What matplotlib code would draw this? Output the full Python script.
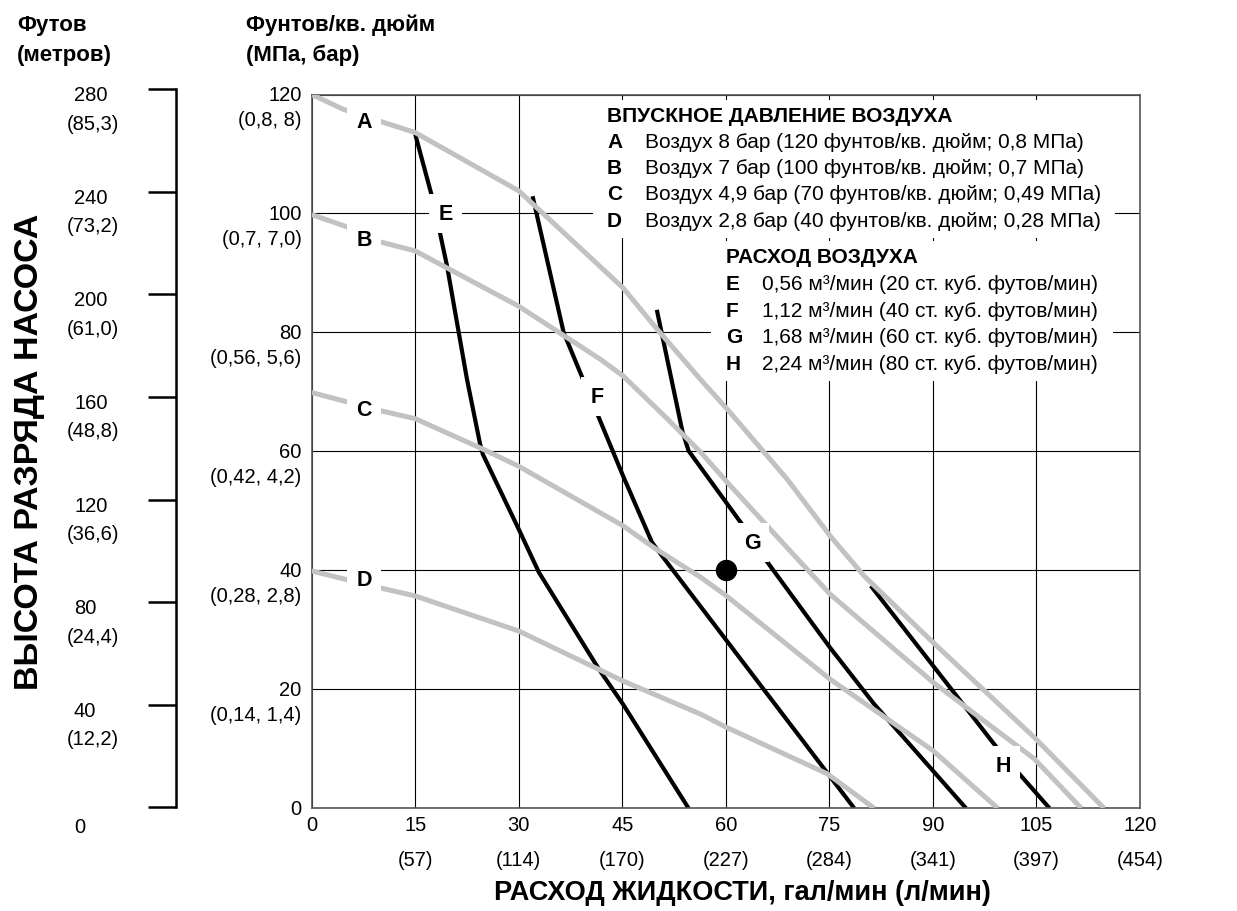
import matplotlib
matplotlib.use('Agg')
import matplotlib.pyplot as plt
from matplotlib.patches import Rectangle
from matplotlib.transforms import Bbox

W, H = 1237, 912
plt.rcParams['font.family'] = ['Liberation Sans', 'DejaVu Sans']
NARROW = ['Liberation Sans Narrow', 'Liberation Sans', 'DejaVu Sans']

# --- curves: fluid flow (gpm) vs outlet pressure (psi) ---
# air inlet pressure curves (gray)
a_gpm = [0, 4.6, 9.9, 15.0, 30.0, 45.1, 50.0, 56.4, 60.2, 68.9, 75.1, 80.0, 90.0, 104.7, 114.8]
a_psi = [120.0, 117.5, 115.5, 113.6, 103.8, 87.5, 80.6, 72.0, 67.1, 55.3, 45.8, 39.1, 27.9, 11.9, 0]
b_gpm = [0, 5.0, 10.0, 15.0, 30.0, 41.8, 45.1, 51.5, 56.4, 60.2, 70.4, 75.1, 90.0, 104.7, 111.5]
b_psi = [99.8, 97.8, 95.2, 93.7, 84.4, 75.5, 72.7, 65.5, 59.8, 54.8, 41.9, 36.0, 21.2, 8.3, 0]
c_gpm = [0, 10.1, 15.0, 24.4, 30.0, 45.1, 49.6, 56.4, 60.1, 75.1, 90.0, 99.4]
c_psi = [69.9, 66.8, 65.5, 60.6, 57.5, 47.5, 43.8, 38.8, 35.7, 21.7, 9.7, 0]
d_gpm = [0, 10.1, 15.0, 30.0, 45.1, 56.4, 60.1, 74.7, 81.5]
d_psi = [39.9, 37.0, 35.7, 29.8, 21.4, 15.8, 13.6, 5.8, 0]

# air consumption curves (black)
e_gpm = [15.0, 17.6, 19.6, 22.5, 24.4, 24.8, 30.0, 32.9, 41.6, 45.1, 54.6]
e_psi = [113.3, 102.1, 91.2, 72.1, 61.2, 59.5, 46.9, 39.7, 23.4, 17.5, 0]
f_gpm = [32.0, 36.5, 41.2, 45.1, 49.3, 51.5, 60.1, 78.6]
f_psi = [102.9, 80.0, 66.8, 55.9, 44.7, 41.3, 28.2, 0]
g_gpm = [50.0, 53.7, 54.6, 62.5, 65.5, 75.1, 81.5, 94.8]
g_psi = [83.8, 63.4, 60.1, 47.5, 42.2, 27.0, 17.5, 0]
h_gpm = [81.0, 90.0, 99.4, 102.5, 106.9]
h_psi = [37.4, 24.0, 10.0, 5.8, 0]

# curve letters placed on the chart (gpm, psi)
curve_letters = ['A', 'B', 'C', 'D', 'E', 'F', 'G', 'H']
letter_gpm = [7.6, 7.6, 7.6, 7.6, 19.4, 41.3, 63.8, 100.2]
letter_psi = [115.4, 95.6, 67.0, 38.5, 100.0, 69.3, 44.7, 7.2]

# operating point
pt_gpm, pt_psi = 60, 40

# axis ticks
x_ticks = [0, 15, 30, 45, 60, 75, 90, 105, 120]
x_lpm = ['', '(57)', '(114)', '(170)', '(227)', '(284)', '(341)', '(397)', '(454)']
y_ticks = [0, 20, 40, 60, 80, 100, 120]
y_mpa = ['', '(0,14, 1,4)', '(0,28, 2,8)', '(0,42, 4,2)', '(0,56, 5,6)', '(0,7, 7,0)', '(0,8, 8)']
ft_ticks = [0, 40, 80, 120, 160, 200, 240, 280]
ft_m = ['', '(12,2)', '(24,4)', '(36,6)', '(48,8)', '(61,0)', '(73,2)', '(85,3)']

leg1_title = 'ВПУСКНОЕ ДАВЛЕНИЕ ВОЗДУХА'
leg1_keys = ['A', 'B', 'C', 'D']
leg1_text = ['Воздух 8 бар (120 фунтов/кв. дюйм; 0,8 МПа)',
             'Воздух 7 бар (100 фунтов/кв. дюйм; 0,7 МПа)',
             'Воздух 4,9 бар (70 фунтов/кв. дюйм; 0,49 МПа)',
             'Воздух 2,8 бар (40 фунтов/кв. дюйм; 0,28 МПа)']
leg2_title = 'РАСХОД ВОЗДУХА'
leg2_keys = ['E', 'F', 'G', 'H']
leg2_text = ['0,56 м³/мин (20 ст. куб. футов/мин)',
             '1,12 м³/мин (40 ст. куб. футов/мин)',
             '1,68 м³/мин (60 ст. куб. футов/мин)',
             '2,24 м³/мин (80 ст. куб. футов/мин)']


def fx(px):
    return px / W


def fy(py):
    return 1 - py / H


fig = plt.figure(figsize=(W / 100, H / 100), dpi=100)
ax = fig.add_axes([fx(311.7), fy(809.3), fx(1140) - fx(311.7), fy(95.5) - fy(809.3)])
ax.set_xlim(0, 120)
ax.set_ylim(0, 120)
ax.set_xticks(x_ticks)
ax.set_yticks(y_ticks)
ax.set_axisbelow(True)
ax.grid(True, color='black', lw=0.8)
ax.tick_params(length=0, labelbottom=False, labelleft=False)
for s in ax.spines.values():
    s.set_color('#555555')
    s.set_linewidth(1.2)

gray = '#c2c2c2'
for gx, gy in [(e_gpm, e_psi), (f_gpm, f_psi), (g_gpm, g_psi), (h_gpm, h_psi)]:
    ax.plot(gx, gy, color='black', lw=3.0, zorder=2, solid_capstyle='butt')
for gx, gy in [(a_gpm, a_psi), (b_gpm, b_psi), (c_gpm, c_psi), (d_gpm, d_psi)]:
    ax.plot(gx, gy, color=gray, lw=3.6, zorder=3, solid_capstyle='butt')
ax.plot(pt_gpm, pt_psi, 'o', color='black', ms=14.4, zorder=6)

for lab, lx, ly in zip(curve_letters, letter_gpm, letter_psi):
    ax.text(lx, ly, lab, fontsize=15.5, fontweight='bold', ha='center', va='center', zorder=5,
            bbox=dict(boxstyle='square,pad=0.42', fc='white', ec='none'))

# x tick labels (gpm and l/min)
for v, lpm in zip(x_ticks, x_lpm):
    ax.annotate(str(v), xy=(v, 0), xycoords=('data', 'axes fraction'), xytext=(0, -16 * 0.72),
                textcoords='offset points', ha='center', va='center', fontsize=14.5, family=NARROW)
    if lpm:
        ax.annotate(lpm, xy=(v, 0), xycoords=('data', 'axes fraction'), xytext=(0, -51 * 0.72),
                    textcoords='offset points', ha='center', va='center', fontsize=14.5, family=NARROW)

# y tick labels (psi and MPa, bar)
for v, mpa in zip(y_ticks, y_mpa):
    ax.annotate(str(v), xy=(0, v), xycoords=('axes fraction', 'data'), xytext=(-10 * 0.72, 0),
                textcoords='offset points', ha='right', va='center', fontsize=14.5)
    if mpa:
        ax.annotate(mpa, xy=(0, v), xycoords=('axes fraction', 'data'), xytext=(-10 * 0.72, -25 * 0.72),
                    textcoords='offset points', ha='right', va='center', fontsize=14.5)

# feet (meters) bracket axis
ax_ft = fig.add_axes([fx(175.7), fy(808.3), 0.001, fy(90.1) - fy(808.3)])
ax_ft.set_ylim(0, 280)
ax_ft.set_yticks(ft_ticks)
ax_ft.set_xticks([])
ax_ft.patch.set_visible(False)
for name, s in ax_ft.spines.items():
    s.set_visible(name == 'left')
ax_ft.spines['left'].set_linewidth(1.8)
ax_ft.tick_params(axis='y', direction='out', length=28 * 0.72, width=1.8, labelleft=False)
for v, m in zip(ft_ticks, ft_m):
    if v == 0:
        ax_ft.annotate('0', xy=(fx(74), v), xycoords=('figure fraction', 'data'), xytext=(0, -19 * 0.72),
                       textcoords='offset points', ha='left', va='center', fontsize=14.5)
        continue
    ax_ft.annotate(str(v), xy=(fx(74), v), xycoords=('figure fraction', 'data'), xytext=(0, -5.5 * 0.72),
                   textcoords='offset points', ha='left', va='center', fontsize=14.5)
    ax_ft.annotate(m, xy=(fx(66.5), v), xycoords=('figure fraction', 'data'), xytext=(0, -34 * 0.72),
                   textcoords='offset points', ha='left', va='center', fontsize=14.5)

# headers and axis titles
fig.text(fx(17), fy(25), 'Футов', fontsize=16, fontweight='bold', va='center')
fig.text(fx(17), fy(55), '(метров)', fontsize=16, fontweight='bold', va='center')
fig.text(fx(246), fy(25), 'Фунтов/кв. дюйм', fontsize=16, fontweight='bold', va='center')
fig.text(fx(246), fy(55), '(МПа, бар)', fontsize=16, fontweight='bold', va='center')
fig.text(fx(30), fy(452), 'ВЫСОТА РАЗРЯДА НАСОСА', fontsize=24.5, fontweight='bold',
         rotation=90, ha='center', va='center')
fig.text(fx(742), fy(893), 'РАСХОД ЖИДКОСТИ, гал/мин (л/мин)', fontsize=19.5, fontweight='bold',
         ha='center', va='center', family=NARROW)


# legend blocks with white background hiding the grid
def legend_block(title, keys, texts, x_key, x_txt, y0, dy):
    arts = [ax.text(fx(x_key), fy(y0), title, transform=fig.transFigure, fontsize=15,
                    fontweight='bold', va='center', zorder=7)]
    for i, (k, t) in enumerate(zip(keys, texts)):
        yy = fy(y0 + dy * (i + 1))
        arts.append(ax.text(fx(x_key), yy, k, transform=fig.transFigure, fontsize=15,
                            fontweight='bold', va='center', zorder=7))
        arts.append(ax.text(fx(x_txt), yy, t, transform=fig.transFigure, fontsize=15,
                            va='center', zorder=7))
    return arts


blk1 = legend_block(leg1_title, leg1_keys, leg1_text, 607, 645, 116, 26.3)
blk2 = legend_block(leg2_title, leg2_keys, leg2_text, 726, 762, 257.5, 26.8)

fig.canvas.draw()
r = fig.canvas.get_renderer()
for arts, pad in [(blk1, 14), (blk2, 15)]:
    bb = Bbox.union([a.get_window_extent(r) for a in arts])
    bb = Bbox.from_extents(bb.x0 - pad, bb.y0 - 8, bb.x1 + pad, bb.y1 + 6)
    fb = bb.transformed(fig.transFigure.inverted())
    ax.add_patch(Rectangle((fb.x0, fb.y0), fb.width, fb.height, transform=fig.transFigure,
                           fc='white', ec='none', zorder=1, clip_on=False))

fig.savefig('out.png', dpi=100)
